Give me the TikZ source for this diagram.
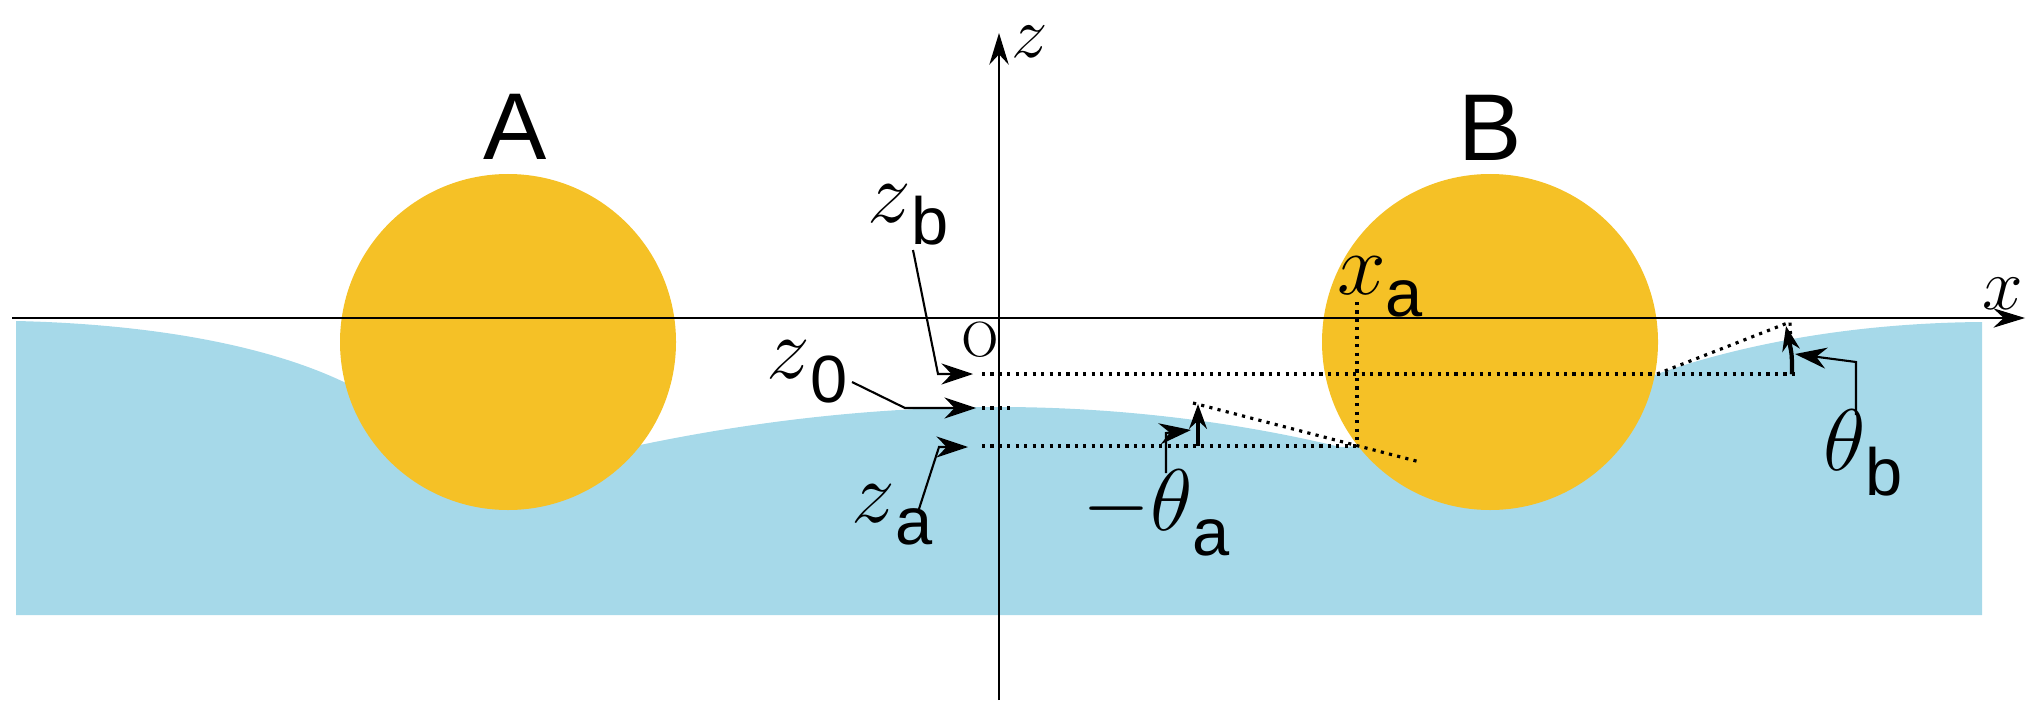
\documentclass[tikz,border=0pt]{standalone}
\usepackage{fontspec}
\newfontfamily\subf{Liberation Sans}
\usetikzlibrary{arrows.meta}
\definecolor{water}{HTML}{A6D9E9}
\definecolor{ball}{HTML}{F5C126}
\newcommand{\sbs}[2][-6pt]{\raisebox{#1}{\fontsize{19}{24}\selectfont\subf #2}}
\begin{document}
\begin{tikzpicture}[x=0.1mm,y=-0.1mm,
  axis/.style={line width=0.6pt,-{Stealth[length=9pt,width=5.5pt]}},
  lead/.style={line width=0.6pt,-{Stealth[length=9pt,width=6pt]}},
  ang/.style={line width=1.2pt,-{Stealth[length=7pt,width=5pt]}},
  dots/.style={line width=0.9pt,dash pattern=on 0.9pt off 1.5pt},
  lab/.style={inner sep=0pt,font=\fontsize{27}{30}\selectfont},
  axlab/.style={inner sep=0pt,font=\fontsize{22}{26}\selectfont},
  big/.style={inner sep=0pt,font=\fontsize{27}{30}\selectfont\subf}]
\useasboundingbox (0,0) rectangle (2040,724);
% liquid
\fill[water] (16,615) -- (16,321) .. controls (150,324) and (270,345) .. (350,385)
  -- (508,420) -- (640,445) .. controls (760,420) and (880,407) .. (999,407)
  .. controls (1130,407) and (1250,425) .. (1340,447) -- (1490,440) -- (1657,374)
  .. controls (1740,345) and (1850,323) .. (1982,322) -- (1982,615) -- cycle;
% particles
\fill[ball] (508,342) circle[radius=168];
\fill[ball] (1490,342) circle[radius=168];
\node[big] (A) at (515,127) {A};
\node[big] (B) at (1490,128) {B};
% axes
\coordinate (xs) at (12,318); \coordinate (xe) at (2025,318);
\coordinate (zs) at (999,700); \coordinate (ze) at (999,33);
\draw[axis] (xs) -- (xe);
\draw[axis] (zs) -- (ze);
\node[axlab] (xl) at (2003,294) {$x$};
\node[axlab] (zl) at (1030,42) {$z$};
\node[inner sep=0pt,font=\fontsize{14}{16}\selectfont] (O) at (980,340) {O};
% dotted lines
\coordinate (zb1) at (982,374); \coordinate (zb2) at (1797,374);
\coordinate (z01) at (982,408); \coordinate (z02) at (1015,408);
\coordinate (za1) at (982,446); \coordinate (za2) at (1357,446);
\coordinate (xa1) at (1357,302);
\coordinate (ta1) at (1193,403); \coordinate (ta2) at (1420,462);
\coordinate (tb1) at (1657,374); \coordinate (tb2) at (1790,322);
\draw[dots] (zb1) -- (zb2);
\draw[dots] (z01) -- (z02);
\draw[dots] (za1) -- (za2);
\draw[dots] (xa1) -- (za2);
\draw[dots] (ta1) -- (ta2);
\draw[dots] (tb1) -- (tb2) -- (1792,374);
% labels
\node[lab] (zb) at (908,215) {$z$\sbs{b}};
\node[lab] (z0) at (807,372) {$z$\sbs[-7pt]{0}};
\node[lab] (za) at (892,515) {$z$\sbs{a}};
\node[lab] (xa) at (1380,287) {$x$\sbs{a}};
\node[lab] (tha) at (1156,513) {$-\theta$\sbs[-7pt]{a}};
\node[lab] (thb) at (1863,453) {$\theta$\sbs[-7pt]{b}};
% leaders
\coordinate (lzb) at (913,250); \coordinate (lzb2) at (938,374); \coordinate (tzb) at (973,374);
\coordinate (lz0) at (852,382); \coordinate (lz02) at (905,408); \coordinate (tz0) at (976,408);
\coordinate (lza) at (918,512); \coordinate (lza2) at (939,447); \coordinate (tza) at (968,447);
\draw[lead] (lzb) -- (lzb2) -- (tzb);
\draw[lead] (lz0) -- (lz02) -- (tz0);
\draw[lead] (lza) -- (lza2) -- (tza);
\coordinate (lta) at (1166,473); \coordinate (lta2) at (1166,433); \coordinate (tta) at (1191,430);
\draw[lead] (lta) -- (lta2) -- (tta);
\coordinate (ltb) at (1856,415); \coordinate (ltb2) at (1856,362); \coordinate (ttb) at (1795,354);
\draw[lead] (ltb) -- (ltb2) -- (ttb);
% angle arrows
\coordinate (aa1) at (1198,446); \coordinate (aa2) at (1198,404);
\draw[ang] (aa1) -- (aa2);
\coordinate (ab1) at (1792,374); \coordinate (ab2) at (1786,326);
\draw[ang] (ab1) .. controls (1792,355) .. (ab2);
\end{tikzpicture}
\end{document}
